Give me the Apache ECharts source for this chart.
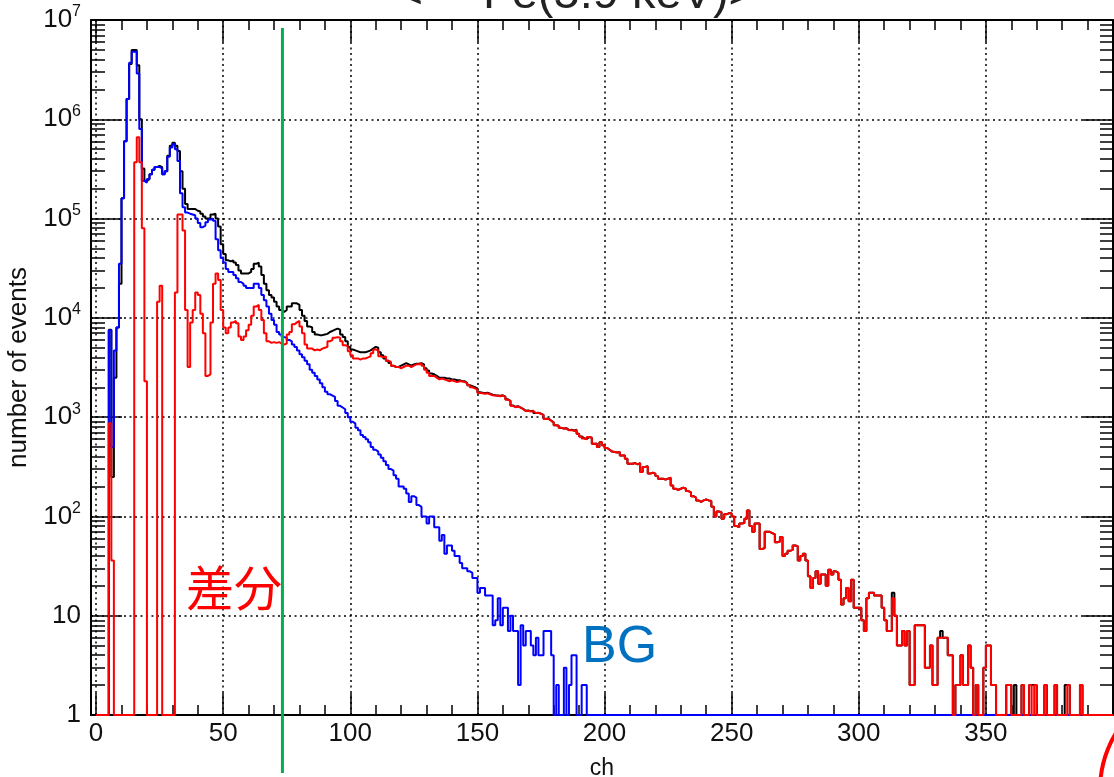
<!DOCTYPE html>
<html>
<head>
<meta charset="utf-8">
<title>ch spectrum</title>
<script src="https://cdn.jsdelivr.net/npm/echarts@6.0.0/dist/echarts.min.js"></script>
<style>
  html, body { margin: 0; padding: 0; background: #fff; }
  #chart { width: 1114px; height: 777px; }
</style>
</head>
<body>
<div id="chart"></div>
<script>
// histogram, 1 channel per bin, counts per channel starting at ch 0
// empty bins beyond the end of an array are 0
const BIN_WIDTH = 1;
const N_BINS = 400;

// total (black)
const totalCounts = [
  0, 0, 0, 0, 0, 7600, 250, 2500, 8000, 22000,
  160000, 600000, 1600000, 3600000, 5000000, 5000000, 3500000, 1000000, 320000, 240000,
  250000, 280000, 310000, 330000, 340000, 330000, 280000, 300000, 430000, 540000,
  580000, 540000, 480000, 300000, 200000, 140000, 125000, 125000, 125000, 120000,
  118000, 112000, 105000, 100000, 100000, 110000, 112000, 100000, 83000, 55000,
  44000, 38000, 37000, 38000, 36000, 34000, 30000, 28000, 28000, 28000,
  29000, 31000, 35000, 36000, 33000, 27000, 22000, 19000, 17000, 16000,
  14500, 13000, 12000, 11500, 12000, 13000, 13000, 14000, 14000, 13500,
  12000, 10500, 9300, 8200, 8000, 7200, 6800, 6700, 6700, 6800,
  6900, 7200, 7400, 7600, 7800, 7600, 6800, 6400, 5800, 5100,
  4800, 4700, 4600, 4500, 4500, 4500, 4600, 4700, 4900, 5100,
  5000, 4500, 4200, 3900, 3700, 3500, 3300, 3200, 3200, 3300,
  3400, 3500, 3400, 3300, 3400, 3450, 3450, 3500, 3400, 3100,
  2950, 2750, 2700, 2600, 2500, 2500, 2500, 2450, 2450, 2400,
  2400, 2350, 2350, 2300, 2300, 2200, 2100, 2050, 2000, 1950,
  1780, 1760, 1740, 1760, 1720, 1680, 1660, 1650, 1640, 1660,
  1610, 1510, 1460, 1310, 1270, 1290, 1250, 1210, 1160, 1170,
  1150, 1160, 1100, 1110, 1085, 1055, 965, 965, 925, 885,
  830, 820, 780, 770, 775, 740, 745, 735, 745, 680,
  640, 612, 602, 630, 620, 540, 540, 500, 560, 520,
  490, 470, 450, 445, 440, 445, 410, 410, 380, 340,
  340, 345, 335, 345, 280, 315, 320, 270, 275, 270,
  255, 240, 240, 235, 240, 245, 205, 190, 185, 190,
  195, 190, 180, 175, 160, 155, 145, 140, 145, 148,
  145, 143, 125, 100, 112, 110, 95, 105, 108, 107,
  100, 80, 78, 85, 86, 95, 115, 80, 70, 85,
  85, 47, 48, 70, 70, 68, 66, 55, 56, 62,
  40, 42, 45, 46, 51, 50, 36, 40, 42, 36,
  25, 19, 24, 28, 21, 26, 26, 20, 29, 26,
  28, 27, 23, 13, 15, 19, 14, 23, 12, 12,
  12, 9, 7, 15, 17, 17, 16, 16, 16, 12,
  9, 7, 7, 17, 10, 5, 5, 7, 5, 7,
  2, 2, 8, 8, 8, 8, 3, 3, 5, 2,
  2, 6, 7, 6, 6, 4, 4, 0, 2, 2,
  4, 2, 2, 5, 3, 0, 2, 0, 0, 3,
  5, 5, 2, 2, 0, 0, 0, 0, 2, 2,
  0, 2, 0, 0, 2, 0, 0, 2, 2, 2,
  0, 0, 0, 2, 0, 0, 0, 2, 0, 0,
  0, 2, 2, 0, 0, 0, 0, 2, 0, 0
];

// background (blue)
const bgCounts = [
  0, 0, 0, 0, 0, 7500, 500, 4700, 8000, 35000,
  160000, 600000, 1600000, 3700000, 4800000, 4800000, 2900000, 800000, 240000, 230000,
  250000, 280000, 310000, 330000, 330000, 320000, 280000, 300000, 420000, 520000,
  560000, 500000, 380000, 180000, 130000, 115000, 112000, 110000, 108000, 100000,
  90000, 82000, 85000, 92000, 98000, 100000, 95000, 62000, 48000, 40000,
  36000, 31000, 29000, 29000, 27000, 25000, 23000, 22000, 21000, 20000,
  20000, 20000, 22000, 22000, 20000, 17000, 15000, 13000, 11000, 9500,
  8500, 7200, 6800, 6400, 6300, 6000, 5800, 5400, 5100, 4700,
  4300, 4000, 3700, 3400, 3000, 2800, 2600, 2400, 2200, 2000,
  1800, 1700, 1650, 1600, 1450, 1300, 1250, 1200, 1100, 1000,
  900, 860, 780, 740, 660, 630, 600, 560, 500, 470,
  450, 420, 390, 360, 330, 300, 290, 260, 240, 200,
  200, 190, 170, 140, 160, 155, 130, 125, 100, 100,
  85, 100, 100, 78, 78, 57, 65, 42, 51, 51,
  45, 40, 40, 34, 30, 30, 28, 27, 24, 24,
  17, 19, 19, 16, 16, 16, 8, 9, 15, 8,
  12, 12, 7, 10, 7, 7, 2, 8, 5, 7,
  7, 5, 4, 6, 4, 4, 7, 7, 7, 4,
  0, 2, 0, 0, 3, 0, 2, 4, 4, 0,
  0, 2, 2
];

// difference (red)
const diffCounts = [
  0, 0, 0, 0, 0, 870, 36, 0, 0, 0,
  0, 0, 0, 0, 0, 370000, 660000, 370000, 80000, 2300,
  0, 0, 0, 0, 14500, 21000, 0, 0, 0, 0,
  0, 18000, 110000, 110000, 76000, 12000, 3200, 9000, 12000, 18000,
  17000, 11000, 7000, 2600, 2700, 9000, 22000, 28000, 24000, 12000,
  8000, 7000, 8000, 9000, 9300, 8800, 6500, 6000, 6500, 7500,
  8500, 10500, 13000, 13500, 12000, 9500, 7000, 5800, 5600, 5700,
  5600, 5700, 5500, 5400, 5500, 6800, 7200, 8600, 9000, 9300,
  8200, 7000, 5400, 4900, 4900, 4700, 4800, 4700, 4900, 5000,
  5100, 5800, 6000, 6300, 6400, 6300, 5800, 5300, 5200, 4600,
  4200, 3900, 3900, 3800, 3900, 3900, 4000, 4100, 4400, 4800,
  4700, 4100, 4000, 4100, 3700, 3600, 3300, 3200, 3200, 3100,
  3200, 3300, 3300, 3200, 3300, 3400, 3400, 3500, 3300, 3000,
  2800, 2600, 2600, 2500, 2400, 2450, 2400, 2350, 2300, 2350,
  2300, 2250, 2300, 2300, 2250, 2200, 2100, 2000, 1950, 1900,
  1750, 1740, 1720, 1740, 1700, 1660, 1650, 1640, 1620, 1650,
  1600, 1500, 1450, 1300, 1260, 1280, 1250, 1200, 1150, 1160,
  1140, 1150, 1100, 1100, 1080, 1050, 960, 960, 920, 880,
  830, 820, 780, 770, 770, 740, 740, 730, 740, 680,
  640, 610, 600, 630, 620, 540, 540, 500, 560, 520,
  490, 470, 450, 445, 440, 445, 410, 410, 380, 340,
  340, 345, 335, 345, 280, 315, 320, 270, 275, 270,
  255, 240, 240, 235, 240, 245, 205, 190, 185, 190,
  195, 190, 180, 175, 160, 155, 145, 140, 145, 148,
  145, 143, 125, 100, 112, 110, 95, 105, 108, 107,
  100, 80, 78, 85, 86, 95, 115, 80, 70, 85,
  85, 47, 48, 70, 70, 68, 66, 55, 56, 62,
  40, 42, 45, 46, 51, 50, 36, 40, 42, 36,
  25, 19, 24, 28, 21, 26, 26, 20, 29, 26,
  28, 27, 23, 13, 15, 19, 14, 23, 12, 12,
  12, 9, 7, 15, 17, 17, 16, 16, 16, 12,
  9, 7, 7, 15, 10, 5, 5, 7, 5, 7,
  2, 2, 8, 8, 8, 8, 3, 3, 5, 2,
  2, 6, 6, 6, 6, 4, 4, 0, 2, 2,
  4, 2, 2, 5, 3, 0, 2, 0, 0, 3,
  5, 5, 2, 2, 0, 0, 0, 0, 2, 2,
  0, 0, 0, 0, 2, 0, 0, 2, 0, 2,
  0, 0, 0, 2, 0, 0, 0, 2, 0, 0,
  0, 0, 2, 0, 0, 0, 0, 2, 0, 0
];

// axes
const X_MIN = -2, X_MAX = 400;
const Y_MIN = 1, Y_MAX = 1e7;
const xMajorTicks = [0, 50, 100, 150, 200, 250, 300, 350, 400];
const xTickLabels = [0, 50, 100, 150, 200, 250, 300, 350];
const yMajorTicks = [1, 10, 100, 1000, 10000, 100000, 1000000, 10000000];
const markerChannel = 73.3; // green cut line

const FONT = '"Liberation Sans", Arial, Helvetica, sans-serif';
const INK = '#111';

const xMinorTicks = [];
for (let v = 10; v < X_MAX; v += 10) if (v % 50 !== 0) xMinorTicks.push(v);
const yMinorTicks = [];
for (let d = 1; d < Y_MAX; d *= 10) for (let k = 2; k <= 9; k++) yMinorTicks.push(k * d);

function histPoints(counts) {
  const pts = [];
  for (let ch = 0; ch < N_BINS; ch++) {
    const v = counts[ch] || 0;
    pts.push([ch * BIN_WIDTH, v > 0 ? v : Y_MIN]); // empty bins sit on the frame
  }
  pts.push([N_BINS * BIN_WIDTH, pts[pts.length - 1][1]]);
  return pts;
}

function xAxis(position, ticks, len, withLine, extra) {
  return Object.assign({
    type: 'value', position: position, min: X_MIN, max: X_MAX,
    minInterval: 50, maxInterval: 50,
    axisLine: { show: withLine, onZero: false, lineStyle: { color: '#000', width: 2 } },
    axisTick: { show: true, inside: true, length: len, customValues: ticks, lineStyle: { color: '#000', width: 1.5 } },
    axisLabel: { show: false },
    splitLine: { show: false }
  }, extra || {});
}

function yAxis(position, ticks, len, withLine, extra) {
  return Object.assign({
    type: 'log', logBase: 10, position: position, min: Y_MIN, max: Y_MAX, splitNumber: 7,
    axisLine: { show: withLine, onZero: false, lineStyle: { color: '#000', width: 2 } },
    axisTick: { show: true, inside: true, length: len, customValues: ticks, lineStyle: { color: '#000', width: 1.5 } },
    axisLabel: { show: false },
    splitLine: { show: false }
  }, extra || {});
}

const gridLine = { show: true, lineStyle: { color: '#000', width: 1.5, type: [2, 3.5] } };

const chart = echarts.init(document.getElementById('chart'));

chart.setOption({
  animation: false,
  backgroundColor: '#fff',
  grid: { left: 91, right: 1, top: 20, bottom: 62, outerBoundsMode: 'none' },
  xAxis: [
    xAxis('bottom', xMajorTicks, 22, true, {
      splitLine: gridLine,
      axisLabel: { show: true, customValues: xTickLabels, fontSize: 26, fontFamily: FONT, color: INK, margin: 6 },
      name: 'ch', nameLocation: 'middle', nameGap: 42,
      nameTextStyle: { fontSize: 23, fontFamily: FONT, color: INK }
    }),
    xAxis('bottom', xMinorTicks, 10, false),
    xAxis('top', xMajorTicks, 22, true),
    xAxis('top', xMinorTicks, 10, false)
  ],
  yAxis: [
    yAxis('left', yMajorTicks, 31, true, {
      splitLine: gridLine,
      axisLabel: {
        show: true, customValues: yMajorTicks, fontSize: 26, fontFamily: FONT, color: INK, margin: 10,
        formatter: function (v) {
          const e = Math.round(Math.log10(v));
          if (e === 0) return '1';
          if (e === 1) return '10';
          return '10{sup|' + e + '}';
        },
        rich: { sup: { fontSize: 16, fontFamily: FONT, color: INK, padding: [0, 0, 16, 0] } }
      },
      name: 'number of events', nameLocation: 'middle', nameGap: 56,
      nameTextStyle: { fontSize: 26, fontFamily: FONT, color: INK }
    }),
    yAxis('left', yMinorTicks, 14, false),
    yAxis('right', yMajorTicks, 30, true),
    yAxis('right', yMinorTicks, 13, false)
  ],
  series: [
    { name: 'total', type: 'line', step: 'end', data: histPoints(totalCounts), showSymbol: false, symbol: 'none',
      lineStyle: { color: '#000', width: 2 }, z: 2 },
    { name: 'BG', type: 'line', step: 'end', data: histPoints(bgCounts), showSymbol: false, symbol: 'none',
      lineStyle: { color: '#0000ff', width: 2 }, z: 3 },
    { name: 'diff', type: 'line', step: 'end', data: histPoints(diffCounts), showSymbol: false, symbol: 'none',
      lineStyle: { color: '#ff0000', width: 2 }, z: 4 }
  ]
});

// annotations drawn on top of the plot
const gx = chart.convertToPixel({ xAxisIndex: 0 }, markerChannel);
chart.setOption({
  graphic: [
    { type: 'line', z: 50, shape: { x1: gx, y1: 28, x2: gx, y2: 773 },
      style: { stroke: '#00b050', lineWidth: 3 } },
    { type: 'text', z: 60, x: 234, y: 588,
      style: { text: '差分', font: '48px "Noto Sans CJK JP"', fill: '#ff0000', align: 'center', verticalAlign: 'middle' } },
    { type: 'text', z: 60, x: 582, y: 648,
      style: { text: 'BG', font: '52px ' + FONT, fill: '#0070c0', align: 'left', verticalAlign: 'middle' } },
    { type: 'text', z: 60, x: 395, y: -5,
      style: { text: '<', font: '48px ' + FONT, fill: '#222', align: 'left', verticalAlign: 'middle' } },
    { type: 'text', z: 60, x: 483, y: -5,
      style: { text: 'Fe(5.9 keV)>', font: '47px ' + FONT, fill: '#222', align: 'left', verticalAlign: 'middle' } },
    { type: 'circle', z: 60, shape: { cx: 1210, cy: 790, r: 110 },
      style: { fill: 'none', stroke: '#ff0000', lineWidth: 4 } }
  ]
});
</script>
</body>
</html>
